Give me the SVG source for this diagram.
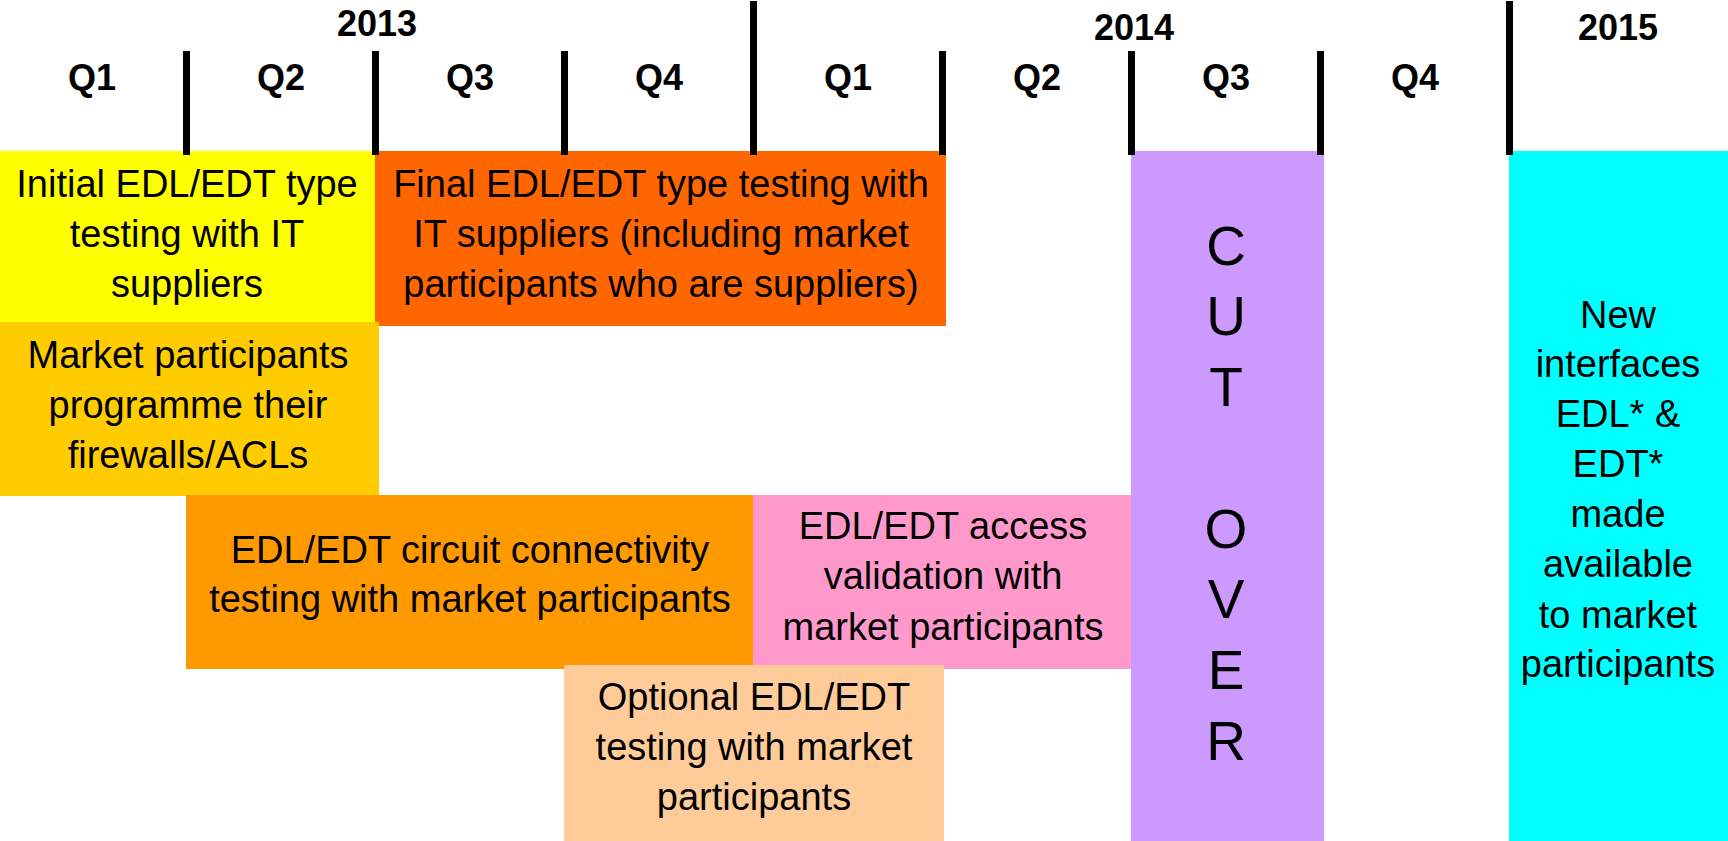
<svg xmlns="http://www.w3.org/2000/svg" width="1728" height="841" viewBox="0 0 1728 841">
<style>
  .t { font-family: "Liberation Sans", Arial, Helvetica, sans-serif; font-size: 38px; fill: #000; text-anchor: middle; }
  .q { font-family: "Liberation Sans", Arial, Helvetica, sans-serif; font-size: 36px; font-weight: bold; fill: #000; text-anchor: middle; }
  .y { font-family: "Liberation Sans", Arial, Helvetica, sans-serif; font-size: 36px; font-weight: bold; fill: #000; text-anchor: middle; }
  .co { font-family: "Liberation Sans", Arial, Helvetica, sans-serif; font-size: 55px; fill: #000; text-anchor: middle; }
  .tick { stroke: #000; stroke-width: 7; }
</style>
<rect x="0" y="0" width="1728" height="841" fill="#fff"/>

<g id="initial-type-testing">
  <rect x="0" y="151" width="375" height="171" fill="#FFFF00"/>
  <text class="t" x="187" y="197">Initial EDL/EDT type</text>
  <text class="t" x="187" y="247">testing with IT</text>
  <text class="t" x="187" y="297">suppliers</text>
</g>

<g id="final-type-testing">
  <rect x="375" y="151" width="571" height="175" fill="#FF6600"/>
  <text class="t" x="661" y="197">Final EDL/EDT type testing with</text>
  <text class="t" x="661" y="247">IT suppliers (including market</text>
  <text class="t" x="661" y="297">participants who are suppliers)</text>
</g>

<g id="firewalls">
  <rect x="0" y="322" width="379" height="174" fill="#FFCC00"/>
  <text class="t" x="188" y="368">Market participants</text>
  <text class="t" x="188" y="418">programme their</text>
  <text class="t" x="188" y="468">firewalls/ACLs</text>
</g>

<g id="circuit-connectivity">
  <rect x="186" y="495" width="567" height="174" fill="#FF9900"/>
  <text class="t" x="470" y="563">EDL/EDT circuit connectivity</text>
  <text class="t" x="470" y="612">testing with market participants</text>
</g>

<g id="access-validation">
  <rect x="753" y="495" width="378" height="174" fill="#FF99CC"/>
  <text class="t" x="943" y="539">EDL/EDT access</text>
  <text class="t" x="943" y="589">validation with</text>
  <text class="t" x="943" y="640">market participants</text>
</g>

<g id="optional-testing">
  <rect x="564" y="665" width="380" height="176" fill="#FFCC99"/>
  <text class="t" x="754" y="710">Optional EDL/EDT</text>
  <text class="t" x="754" y="760">testing with market</text>
  <text class="t" x="754" y="810">participants</text>
</g>

<g id="cut-over">
  <rect x="1131" y="151" width="193" height="690" fill="#CC99FF"/>
  <text class="co" x="1226" y="265">C</text>
  <text class="co" x="1226" y="335">U</text>
  <text class="co" x="1226" y="406">T</text>
  <text class="co" x="1226" y="548">O</text>
  <text class="co" x="1226" y="618">V</text>
  <text class="co" x="1226" y="689">E</text>
  <text class="co" x="1226" y="760">R</text>
</g>

<g id="new-interfaces">
  <rect x="1509" y="151" width="219" height="690" fill="#00FFFF"/>
  <text class="t" x="1618" y="328">New</text>
  <text class="t" x="1618" y="377">interfaces</text>
  <text class="t" x="1618" y="427">EDL* &amp;</text>
  <text class="t" x="1618" y="477">EDT*</text>
  <text class="t" x="1618" y="527">made</text>
  <text class="t" x="1618" y="577">available</text>
  <text class="t" x="1618" y="628">to market</text>
  <text class="t" x="1618" y="677">participants</text>
</g>

<g id="timeline">
  <text class="y" x="377" y="36">2013</text>
  <text class="y" x="1134" y="40">2014</text>
  <text class="y" x="1618" y="40">2015</text>
  <text class="q" x="92" y="90">Q1</text>
  <text class="q" x="281" y="90">Q2</text>
  <text class="q" x="470" y="90">Q3</text>
  <text class="q" x="659" y="90">Q4</text>
  <text class="q" x="848" y="90">Q1</text>
  <text class="q" x="1037" y="90">Q2</text>
  <text class="q" x="1226" y="90">Q3</text>
  <text class="q" x="1415" y="90">Q4</text>
  <g id="ticks">
    <line class="tick" x1="186.5" y1="51" x2="186.5" y2="155"/>
    <line class="tick" x1="375.5" y1="51" x2="375.5" y2="155"/>
    <line class="tick" x1="564.5" y1="51" x2="564.5" y2="155"/>
    <line class="tick" x1="753.5" y1="1" x2="753.5" y2="155"/>
    <line class="tick" x1="942.5" y1="51" x2="942.5" y2="155"/>
    <line class="tick" x1="1131.5" y1="51" x2="1131.5" y2="155"/>
    <line class="tick" x1="1320.5" y1="51" x2="1320.5" y2="155"/>
    <line class="tick" x1="1509.5" y1="1" x2="1509.5" y2="155"/>
  </g>
</g>
</svg>
